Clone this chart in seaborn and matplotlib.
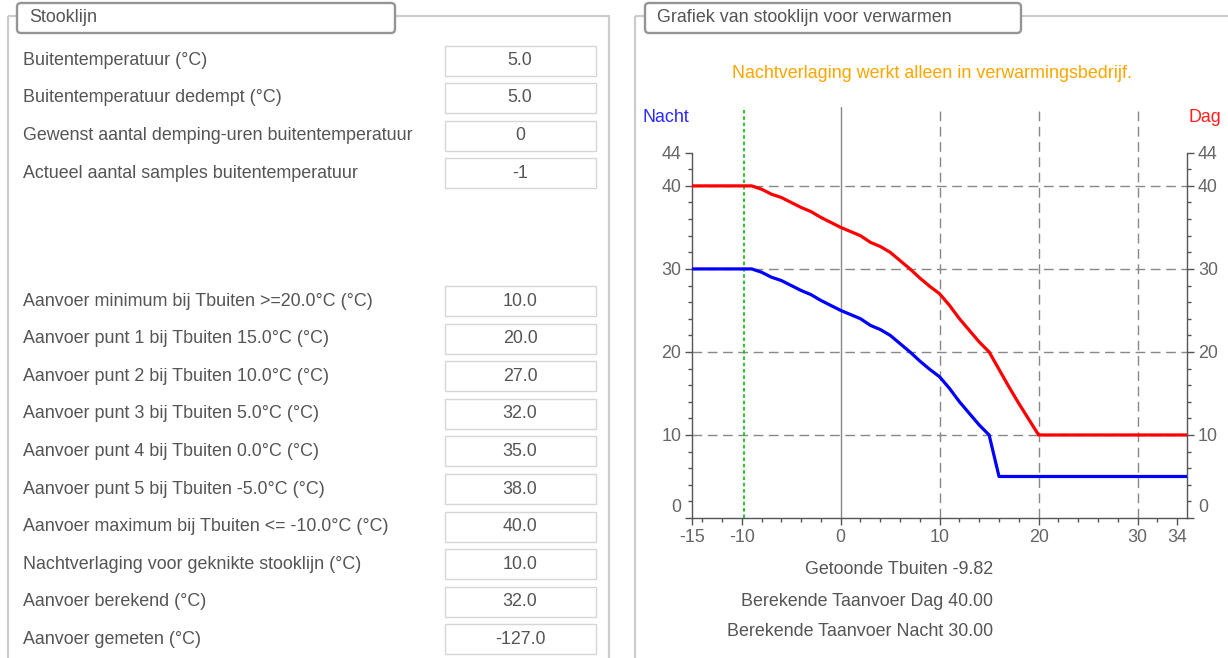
import pandas as pd
import seaborn as sns
import matplotlib.pyplot as plt
from matplotlib.patches import Rectangle, FancyBboxPatch
from matplotlib.ticker import FixedLocator
from matplotlib.transforms import ScaledTranslation

sns.set_theme(style="white")
plt.rcParams['font.family'] = ['Liberation Sans', 'DejaVu Sans']

# ---------------------------
# Data: form fields (left panel)
# ---------------------------
sensor_labels = [
    "Buitentemperatuur (°C)",
    "Buitentemperatuur dedempt (°C)",
    "Gewenst aantal demping-uren buitentemperatuur",
    "Actueel aantal samples buitentemperatuur",
]
sensor_values = ["5.0", "5.0", "0", "-1"]

curve_labels = [
    "Aanvoer minimum bij Tbuiten >=20.0°C (°C)",
    "Aanvoer punt 1 bij Tbuiten 15.0°C (°C)",
    "Aanvoer punt 2 bij Tbuiten 10.0°C (°C)",
    "Aanvoer punt 3 bij Tbuiten 5.0°C (°C)",
    "Aanvoer punt 4 bij Tbuiten 0.0°C (°C)",
    "Aanvoer punt 5 bij Tbuiten -5.0°C (°C)",
    "Aanvoer maximum bij Tbuiten <= -10.0°C (°C)",
    "Nachtverlaging voor geknikte stooklijn (°C)",
    "Aanvoer berekend (°C)",
    "Aanvoer gemeten (°C)",
]
curve_values = ["10.0", "20.0", "27.0", "32.0", "35.0", "38.0", "40.0", "10.0", "32.0", "-127.0"]

# ---------------------------
# Data: heating curve
# ---------------------------
tbuiten = [-15, -9, -8, -7, -6, -5, -4, -3, -2, -1, 0, 1, 2, 3, 4, 5, 6, 7, 8, 9,
           10, 11, 12, 13, 14, 15, 16, 17, 18, 19, 20, 35]
aanvoer_dag = [40, 40, 39.6, 39.0, 38.6, 38.0, 37.4, 36.9, 36.2, 35.6, 35.0, 34.5, 34.0, 33.2,
               32.7, 32.0, 31.0, 30.0, 28.9, 27.9, 27.0, 25.6, 24.0, 22.6, 21.2, 20.0, 17.9,
               15.8, 13.8, 11.9, 10.0, 10.0]
aanvoer_nacht = [30, 30, 29.6, 29.0, 28.6, 28.0, 27.4, 26.9, 26.2, 25.6, 25.0, 24.5, 24.0, 23.2,
                 22.7, 22.0, 21.0, 20.0, 18.9, 17.9, 17.0, 15.6, 14.0, 12.6, 11.2, 10.0, 5.0,
                 5.0, 5.0, 5.0, 5.0, 5.0]
tbuiten_getoond = -9.82
taanvoer_dag = 40.00
taanvoer_nacht = 30.00

x_major = [-15, -10, 0, 10, 20, 30, 34]
y_major = [0, 10, 20, 30, 40, 44]

df = pd.DataFrame({
    "Tbuiten": tbuiten + tbuiten,
    "Taanvoer": aanvoer_dag + aanvoer_nacht,
    "mode": ["Dag"] * len(tbuiten) + ["Nacht"] * len(tbuiten),
})

TXT = '#555555'
FS = 12.9

fig = plt.figure(figsize=(12.28, 6.58), dpi=100)

# background layer in pixel coordinates for the form / panels
bg = fig.add_axes([0, 0, 1, 1])
bg.set_xlim(0, 1228)
bg.set_ylim(658, 0)
bg.axis('off')

# panel borders
bg.add_patch(Rectangle((8, 16), 601, 700, fill=False, ec='#cccccc', lw=1.6))
bg.add_patch(Rectangle((635, 16), 700, 700, fill=False, ec='#cccccc', lw=1.6))

# panel legends (rounded boxes)
for x0, x1, title in [(17, 395, "Stooklijn"), (645, 1021, "Grafiek van stooklijn voor verwarmen")]:
    bg.add_patch(FancyBboxPatch((x0, 3), x1 - x0, 30, boxstyle="round,pad=0,rounding_size=4",
                                fc='white', ec='#959595', lw=1.7))
    bg.text(x0 + 12, 17.5, title, fontsize=FS, color=TXT, va='center', ha='left')

# form rows
def form_row(y, label, value):
    bg.text(23, y, label, fontsize=FS, color=TXT, va='center', ha='left')
    bg.add_patch(Rectangle((444.5, y - 15), 151, 30, fill=False, ec='#d6d6d6', lw=1.0))
    bg.text(520, y, value, fontsize=FS, color=TXT, va='center', ha='center')

for i, (lab, val) in enumerate(zip(sensor_labels, sensor_values)):
    form_row(60.5 + 37.5 * i, lab, val)
for i, (lab, val) in enumerate(zip(curve_labels, curve_values)):
    form_row(301 + 37.6 * i, lab, val)

# chart texts
bg.text(932, 74, "Nachtverlaging werkt alleen in verwarmingsbedrijf.", fontsize=FS,
        color='#ffa500', ha='center', va='center')
bg.text(643, 117, "Nacht", fontsize=FS, color='#2a2aff', ha='left', va='center')
bg.text(1221, 117, "Dag", fontsize=FS, color='#ff2020', ha='right', va='center')
bg.text(993, 569, f"Getoonde Tbuiten {tbuiten_getoond:.2f}", fontsize=FS, color=TXT, ha='right', va='center')
bg.text(993, 601, f"Berekende Taanvoer Dag {taanvoer_dag:.2f}", fontsize=FS, color=TXT, ha='right', va='center')
bg.text(993, 631, f"Berekende Taanvoer Nacht {taanvoer_nacht:.2f}", fontsize=FS, color=TXT, ha='right', va='center')

# ---------------------------
# Chart
# ---------------------------
ax = fig.add_axes([692.3 / 1228, 1 - 518 / 658, (1187 - 692.3) / 1228, (518 - 107) / 658])
ax.set_facecolor('none')
ax.set_xlim(-15, 35)
ax.set_ylim(0, 49.5)

# grid
for v in [10, 20, 30]:
    ax.axvline(v, color='#888888', lw=1, ls=(0, (7, 4)), zorder=1)
for h in [10, 20, 30, 40]:
    ax.axhline(h, color='#888888', lw=1, ls=(0, (7, 4)), zorder=1)
ax.axvline(0, color='#888888', lw=1, zorder=1)
ax.axvline(tbuiten_getoond, color='#1fbf1f', lw=1.3, ls=(0, (2, 1.5)), zorder=2)

sns.lineplot(data=df, x="Tbuiten", y="Taanvoer", hue="mode",
             palette={"Dag": "#ff0000", "Nacht": "#0000ff"},
             linewidth=2.3, legend=False, ax=ax, zorder=5)
ax.set_xlabel("")
ax.set_ylabel("")

for s in ['left', 'right', 'bottom']:
    ax.spines[s].set_visible(True)
    ax.spines[s].set_color('#555555')
    ax.spines[s].set_linewidth(1.0)
ax.spines['top'].set_visible(False)
ax.spines['left'].set_bounds(0, 44)
ax.spines['right'].set_bounds(0, 44)

ax.set_xticks(x_major)
ax.set_xticklabels([str(v) for v in x_major])
ax.xaxis.set_minor_locator(FixedLocator(list(range(-14, 35, 2))))
ax.set_yticks(y_major)
ax.set_yticklabels([str(v) for v in y_major])
ax.yaxis.set_minor_locator(FixedLocator(list(range(2, 44, 2))))

ax.tick_params(which='both', direction='out', color='#555555', labelcolor='#666666',
               labelsize=FS, left=True, right=True, bottom=True, labelright=True)
ax.tick_params(which='major', length=5, width=1, pad=3)
ax.tick_params(which='minor', length=3, width=1)

# the "0" labels sit a little above the axis corner in the original
shift = ScaledTranslation(0, 0.12, fig.dpi_scale_trans)
t0 = ax.yaxis.get_major_ticks()[0]
t0.label1.set_transform(t0.label1.get_transform() + shift)
t0.label2.set_transform(t0.label2.get_transform() + shift)

fig.savefig("out.png", dpi=100, facecolor='white')
